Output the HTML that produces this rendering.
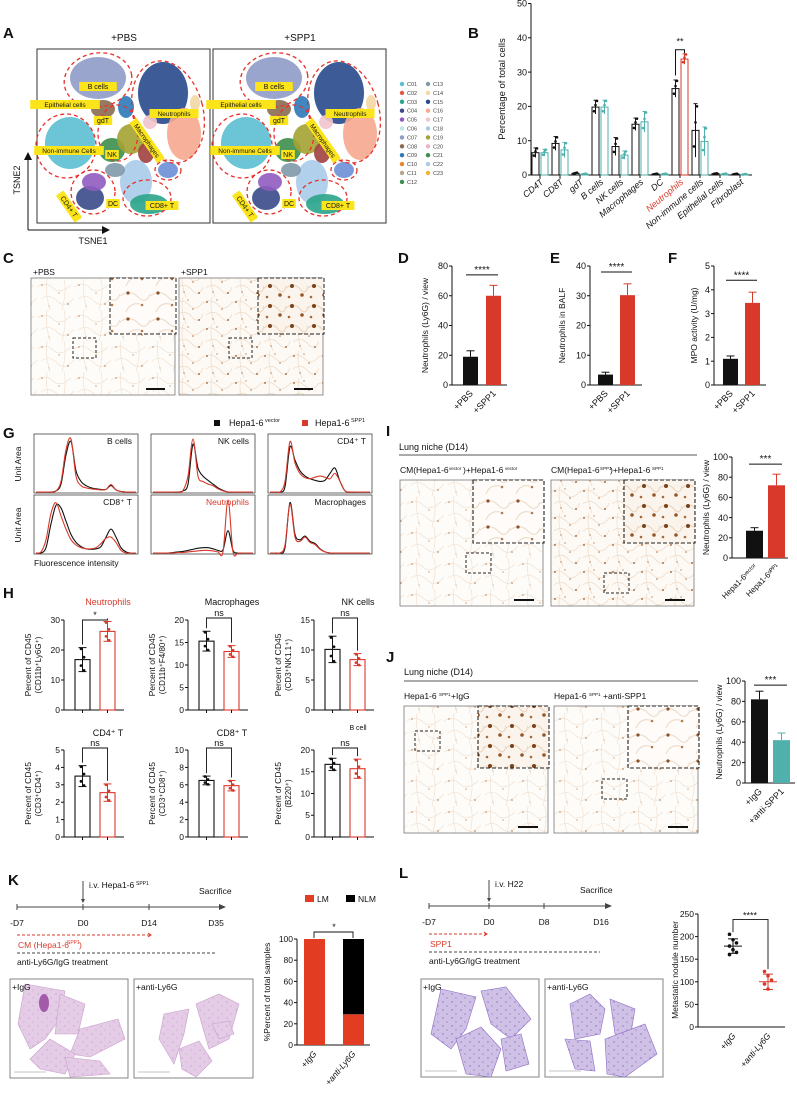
<!DOCTYPE html>
<html><head><meta charset="utf-8">
<style>
html,body{margin:0;padding:0;background:#fff;}
svg{display:block;font-family:"Liberation Sans",Arial,sans-serif;}
</style></head>
<body>
<svg id="fig" xmlns="http://www.w3.org/2000/svg" width="797" height="1094" viewBox="0 0 797 1094">
<defs>
<pattern id="ihc" width="37" height="31" patternUnits="userSpaceOnUse">
<rect width="37" height="31" fill="#fefcf9"/>
<path d="M0 8 Q9 2 16 9 T34 6 M4 20 Q12 14 20 22 T37 19 M10 0 Q8 14 13 31 M27 0 Q30 12 25 31" stroke="#f0e1d2" stroke-width="0.7" fill="none"/>
<circle cx="5" cy="6" r="0.8" fill="#c08a5c"/><circle cx="22" cy="14" r="0.7" fill="#cf9d72"/><circle cx="31" cy="25" r="0.8" fill="#b57a4c"/><circle cx="12" cy="27" r="0.6" fill="#d3a680"/>
</pattern>
<pattern id="ihc2" width="29" height="27" patternUnits="userSpaceOnUse">
<rect width="29" height="27" fill="#fdf9f4"/>
<path d="M0 6 Q8 1 15 8 T29 5 M3 18 Q11 12 18 20 T29 17 M9 0 Q6 13 12 27" stroke="#eedbc8" stroke-width="0.7" fill="none"/>
<circle cx="4" cy="5" r="0.9" fill="#9a5a2a"/><circle cx="19" cy="12" r="0.8" fill="#b4743f"/><circle cx="25" cy="23" r="0.9" fill="#8f4f22"/><circle cx="10" cy="22" r="0.7" fill="#b07a4c"/><circle cx="14" cy="3" r="0.6" fill="#a0602e"/>
</pattern>
<pattern id="inset1" width="30" height="26" patternUnits="userSpaceOnUse">
<rect width="30" height="26" fill="#fefbf8"/>
<path d="M0 10 Q10 3 18 11 T30 8 M6 26 Q10 16 20 18" stroke="#eddccb" stroke-width="1.1" fill="none"/>
<circle cx="8" cy="7" r="1.6" fill="#8a5128"/><circle cx="22" cy="19" r="1.3" fill="#b07a4c"/>
</pattern>
<pattern id="inset2" width="22" height="20" patternUnits="userSpaceOnUse">
<rect width="22" height="20" fill="#fbf4ec"/>
<path d="M0 8 Q8 2 14 9 T22 6" stroke="#ead5c0" stroke-width="1.1" fill="none"/>
<circle cx="6" cy="6" r="2" fill="#7a4218"/><circle cx="16" cy="15" r="1.8" fill="#94572a"/><circle cx="3" cy="17" r="1.3" fill="#a56a3a"/>
</pattern>
<pattern id="he" width="9" height="8" patternUnits="userSpaceOnUse">
<rect width="9" height="8" fill="#e4cbe6"/>
<circle cx="2" cy="2" r="0.6" fill="#c48fc8"/><circle cx="6" cy="6" r="0.6" fill="#cfa2d2"/>
</pattern>
<pattern id="hep" width="9" height="8" patternUnits="userSpaceOnUse">
<rect width="9" height="8" fill="#cfc1e6"/>
<circle cx="2" cy="2" r="0.7" fill="#8a6cc2"/><circle cx="6" cy="6" r="0.7" fill="#9c83cc"/>
</pattern>
</defs>
</svg>
<script>
// ---------------- DATA ----------------
const bCats = ["CD4T","CD8T","gdT","B cells","NK cells","Macrophages","DC","Neutrophils","Non-immune cells","Epithelial cells","Fibroblast"];
const bPBS = [6.5,9.2,0.5,19.8,8.3,14.8,0.3,25.2,13.0,0.4,0.3];
const bSPP1 = [6.5,7.3,0.3,19.8,5.8,15.5,0.3,33.8,9.8,0.3,0.2];
const bErrP = [1.4,2.0,0.2,2.0,2.6,1.8,0.1,2.5,7.8,0.1,0.1];
const bErrS = [1.0,2.2,0.1,2.0,1.2,3.0,0.1,1.5,4.2,0.1,0.1];
const bTicks = [0,10,20,30,40,50];

const dVals = [19,60]; const dErr = [4,7]; const dTicks=[0,20,40,60,80];
const eVals = [3.5,30.2]; const eErr = [0.8,3.8]; const eTicks=[0,10,20,30,40];
const fVals = [1.1,3.45]; const fErr = [0.12,0.45]; const fTicks=[0,1,2,3,4,5];
const iVals = [27,72]; const iErr = [3,11]; const iTicks=[0,20,40,60,80,100];
const jVals = [82,42]; const jErr = [8,7]; const jTicks=[0,20,40,60,80,100];

const hTitles = ["Neutrophils","Macrophages","NK cells","CD4⁺ T","CD8⁺ T","B cell"];
const hYlab2 = ["(CD11b⁺Ly6G⁺)","(CD11b⁺F4/80⁺)","(CD3⁺NK1.1⁺)","(CD3⁺CD4⁺)","(CD3⁺CD8⁺)","(B220⁺)"];
const hCtrl = [16.8,15.3,10.1,3.5,6.5,16.7];
const hSpp = [26.2,13.0,8.4,2.55,5.9,15.7];
const hErrC = [4.0,2.2,2.2,0.6,0.5,1.4];
const hErrS = [3.3,1.3,1.0,0.5,0.6,2.2];
const hMax = [30,20,15,5,10,20];
const hStep = [10,5,5,1,2,5];
const hSig = ["*","ns","ns","ns","ns","ns"];

const histNames = ["B cells","NK cells","CD4⁺ T","CD8⁺ T","Neutrophils","Macrophages"];
const histBlack = [
 [0,0,0,0,0.02,0.15,0.7,0.95,0.4,0.2,0.12,0.08,0.06,0.05,0.05,0.12,0.04,0.01,0,0,0],
 [0,0,0,0,0,0,0.02,0.15,0.9,0.45,0.3,0.22,0.15,0.08,0.03,0,0,0,0,0,0],
 [0,0,0,0.1,0.85,0.6,0.4,0.3,0.25,0.22,0.2,0.22,0.35,0.45,0.2,0.02,0,0,0,0,0],
 [0,0,0.1,0.55,0.9,0.85,0.6,0.35,0.2,0.12,0.08,0.07,0.08,0.12,0.3,0.45,0.3,0.1,0.02,0,0],
 [0,0,0,0,0.01,0.02,0.03,0.05,0.07,0.09,0.1,0.1,0.08,0.05,0.06,0.42,0.05,0,0,0,0],
 [0,0,0,0.1,0.95,0.35,0.25,0.32,0.22,0.18,0.08,0.02,0,0,0,0,0,0,0,0,0]
];
const histRed = [
 [0,0,0,0,0.02,0.2,0.8,1.0,0.3,0.12,0.08,0.06,0.05,0.04,0.05,0.14,0.04,0.01,0,0,0],
 [0,0,0,0,0,0,0.03,0.3,1.0,0.3,0.2,0.15,0.12,0.06,0.02,0,0,0,0,0,0],
 [0,0,0,0.2,0.95,0.55,0.35,0.27,0.25,0.28,0.3,0.28,0.25,0.35,0.2,0.02,0,0,0,0,0],
 [0,0.02,0.25,0.75,0.95,0.7,0.45,0.25,0.15,0.1,0.08,0.08,0.1,0.18,0.28,0.3,0.2,0.05,0,0,0],
 [0,0,0,0,0,0.01,0.01,0.02,0.03,0.04,0.05,0.05,0.04,0.02,0.02,1.0,0.02,0,0,0,0],
 [0,0,0,0.15,0.92,0.3,0.22,0.3,0.2,0.16,0.07,0.02,0,0,0,0,0,0,0,0,0]
];

const kLM = [100,29]; const kNLM = [0,71]; const kTicks=[0,20,40,60,80,100];
const lIgG = [205,193,186,179,171,165,160];
const lAnti = [123,113,104,95,84];
const lMean = [179,100]; const lSD = [16,17]; const lTicks=[0,50,100,150,200,250];

// --------------- HELPERS ---------------
const NS="http://www.w3.org/2000/svg";
const svg=document.getElementById("fig");
const RED="#d9392a", TEAL="#4fb0ac";
function mk(tag,attrs,parent,name,inter){
  const e=document.createElementNS(NS,tag);
  for(const k in attrs) e.setAttribute(k,attrs[k]);
  
  
  (parent||svg).appendChild(e); return e;
}
function txt(x,y,s,size,name,o){
  o=o||{};
  const a={x:x,y:y,"font-size":size,fill:o.fill||"#111"};
  if(o.anchor) a["text-anchor"]=o.anchor;
  if(o.weight) a["font-weight"]=o.weight;
  if(o.italic) a["font-style"]="italic";
  if(o.rot!==undefined) a.transform="rotate("+o.rot+" "+x+" "+y+")";
  const t=mk("text",a,o.parent,name,false);
  t.textContent=s; return t;
}
function line(x1,y1,x2,y2,name,o){
  o=o||{};
  const a={x1:x1,y1:y1,x2:x2,y2:y2,stroke:o.stroke||"#111","stroke-width":o.w||1};
  if(o.dash) a["stroke-dasharray"]=o.dash;
  return mk("line",a,o.parent,name,false);
}
function rect(x,y,w,h,name,o){
  o=o||{};
  return mk("rect",{x:x,y:y,width:w,height:h,fill:o.fill||"none",stroke:o.stroke||"none","stroke-width":o.w||1,"stroke-dasharray":o.dash||"none"},o.parent,name,false);
}
function panelLabel(x,y,s){ txt(x,y,s,15,"panel-label-"+s.toLowerCase(),{weight:"bold"}); }
function yAxis(x,y0,y1,ticks,max,size,name){
  const g=mk("g",{},svg,name,false);
  line(x,y0,x,y1,"y-axis-line",{parent:g});
  ticks.forEach(t=>{
    const y=y0-(t/max)*(y0-y1);
    line(x-3,y,x,y,"y-tick",{parent:g});
    txt(x-4,y+size*0.35,String(t),size,"y-tick-label",{anchor:"end",parent:g});
  });
  return g;
}
function errBar(cx,yTop,yBot,w,color,name,parent){
  line(cx,yTop,cx,yBot,name,{stroke:color,parent:parent});
  line(cx-w,yTop,cx+w,yTop,name+"-cap",{stroke:color,parent:parent});
}
function smoothPath(pts){
  let d="M"+pts[0][0]+" "+pts[0][1];
  for(let i=0;i<pts.length-1;i++){
    const p0=pts[i-1]||pts[i],p1=pts[i],p2=pts[i+1],p3=pts[i+2]||p2;
    const c1x=p1[0]+(p2[0]-p0[0])/6,c1y=p1[1]+(p2[1]-p0[1])/6;
    const c2x=p2[0]-(p3[0]-p1[0])/6,c2y=p2[1]-(p3[1]-p1[1])/6;
    d+=" C"+c1x.toFixed(1)+" "+c1y.toFixed(1)+" "+c2x.toFixed(1)+" "+c2y.toFixed(1)+" "+p2[0].toFixed(1)+" "+p2[1].toFixed(1);
  }
  return d;
}

// --------------- PANEL A: tSNE ---------------
panelLabel(3,38,"A");
const blobs=[
 [98,78,28,21,"#8e9bc6"],[163,93,25,31,"#27498c"],[184,134,17,26,"#f6a98f"],[70,143,25,26,"#5bbfd2"],
 [103,109,12,9,"#8b6a50"],[112,150,13,12,"#3b8f4c"],[131,139,14,15,"#a4a232"],[146,153,8,10,"#a0403f"],
 [126,107,8,11,"#2e78b8"],[136,182,16,22,"#a9cbe9"],[90,198,14,12,"#3b4a8a"],[94,182,12,9,"#8f5cbf"],
 [149,204,19,10,"#2aa48a"],[168,170,10,8,"#6b8fd6"],[115,170,10,7,"#7f9aa8"],[195,103,5,8,"#f3d7a4"],[150,122,7,7,"#f2c4cc"]
];
const outlines=[[98,80,34,27,-10],[168,112,35,52,-15],[66,146,30,32,0],[93,192,22,22,0],[147,198,24,18,0],[168,170,13,10,0],[118,133,20,28,0]];
const labelsA=[["B cells",98,89,0],["Epithelial cells",65,107,0],["gdT",103,123,0],["Neutrophils",174,116,0],["Non-immune Cells",69,153,0],["NK",112,157,0],["DC",113,206,0],["CD8+ T",162,208,0],["Macrophages",145,142,55],["CD4+ T",67,208,55]];
[[0,"+PBS","tsne-pbs"],[176,"+SPP1","tsne-spp1"]].forEach(([dx,title,nm])=>{
  const g=mk("g",{transform:"translate("+dx+",0)"},svg,nm,false);
  txt(124,41,title,10,"tsne-title",{anchor:"middle",parent:g});
  rect(37,49,173,174,"tsne-frame",{stroke:"#333",w:1,parent:g});
  blobs.forEach(b=>{
    mk("ellipse",{cx:b[0],cy:b[1],rx:b[2],ry:b[3],fill:b[4],opacity:0.9},g,"cell-cluster",false);
  });
  outlines.forEach(o=>{
    mk("ellipse",{cx:o[0],cy:o[1],rx:o[2],ry:o[3],fill:"none",stroke:"#e8302a","stroke-width":1.3,"stroke-dasharray":"4 3",transform:"rotate("+o[4]+" "+o[0]+" "+o[1]+")"},g,"cluster-outline",false);
  });
  labelsA.forEach(l=>{
    const w=l[0].length*(l[0].length>8?4.1:4.8)+4;
    const lg=mk("g",{transform:"translate("+l[1]+","+l[2]+") rotate("+l[3]+")"},g,"cluster-label",false);
    rect(-w/2,-7,w,9,"cluster-label-bg",{fill:"#fbe51a",parent:lg});
    txt(0,0,l[0],l[0].length>8?6.5:7,"cluster-label-text",{anchor:"middle",parent:lg});
  });
});
line(28,230,28,158,"tsne2-axis");
mk("path",{d:"M24 160 L28 152 L32 160 Z",fill:"#111"},svg,"tsne2-arrowhead",false);
line(28,230,104,230,"tsne1-axis");
mk("path",{d:"M102 226 L110 230 L102 234 Z",fill:"#111"},svg,"tsne1-arrowhead",false);
txt(20,180,"TSNE2",9,"tsne2-label",{anchor:"middle",rot:-90});
txt(93,244,"TSNE1",9,"tsne1-label",{anchor:"middle"});
const legCols=["#5bbfd2","#e5574a","#2aa48a","#3b4a8a","#8f5cbf","#bfe6e2","#8e9bc6","#8b6a50","#2e78b8","#e8862e","#b5a58d","#3b8f4c","#7f9aa8","#f3d7a4","#27498c","#f6a98f","#f2c4cc","#a9cbe9","#a4a232","#f0b3c0","#3b8f4c","#a9cbe9","#f2b533"];
legCols.forEach((c,i)=>{
  const col=i<12?0:1, row=i<12?i:i-12;
  const x=402+col*26, y=86+row*8.9;
  mk("circle",{cx:x,cy:y-2,r:2.2,fill:c},svg,"legend-dot",false);
  txt(x+5,y,"C"+String(i+1).padStart(2,"0"),5.5,"legend-entry",{fill:"#444"});
});

// --------------- PANEL B ---------------
panelLabel(468,38,"B");
{
  const x0=531,y0=175,yt=3.5,max=50;
  const yB=v=>y0-(v/max)*(y0-yt);
  yAxis(x0,y0,yt,bTicks,max,9,"b-y-axis");
  line(x0,y0,752,y0,"b-x-axis");
  txt(505,89,"Percentage of total cells",9.5,"b-y-axis-title",{anchor:"middle",rot:-90});
  bCats.forEach((c,i)=>{
    const cx=540+i*20;
    const g=mk("g",{},svg,"b-group-"+c.toLowerCase().replace(/ /g,"-"),false);
    const col2=c==="Neutrophils"?RED:TEAL;
    rect(cx-8,yB(bPBS[i]),7,y0-yB(bPBS[i]),"bar-pbs",{stroke:"#111",w:1,parent:g});
    rect(cx+1,yB(bSPP1[i]),7,y0-yB(bSPP1[i]),"bar-spp1",{stroke:col2,w:1,parent:g});
    line(cx-4.5,yB(bPBS[i]+bErrP[i]),cx-4.5,yB(Math.max(0,bPBS[i]-bErrP[i])),"err-pbs",{parent:g});
    line(cx-6.5,yB(bPBS[i]+bErrP[i]),cx-2.5,yB(bPBS[i]+bErrP[i]),"err-cap",{parent:g});
    line(cx+4.5,yB(bSPP1[i]+bErrS[i]),cx+4.5,yB(Math.max(0,bSPP1[i]-bErrS[i])),"err-spp1",{stroke:col2,parent:g});
    line(cx+2.5,yB(bSPP1[i]+bErrS[i]),cx+6.5,yB(bSPP1[i]+bErrS[i]),"err-cap",{stroke:col2,parent:g});
    [-0.6,0.3,0.9].forEach((k,j)=>{
      mk("circle",{cx:cx-4.5+(j-1)*1.5,cy:yB(Math.max(0,bPBS[i]+k*bErrP[i])),r:1.3,fill:"#111"},g,"point-pbs",false);
      mk("circle",{cx:cx+4.5+(j-1)*1.5,cy:yB(Math.max(0,bSPP1[i]+k*bErrS[i])),r:1.3,fill:col2},g,"point-spp1",false);
    });
    line(cx,y0,cx,y0+3,"x-tick",{parent:g});
    txt(cx+4,y0+8,c,9,"b-x-label",{anchor:"end",rot:-40,italic:true,fill:c==="Neutrophils"?RED:"#111",parent:g});
  });
  const nx=540+7*20;
  mk("path",{d:"M"+(nx-4.5)+" "+(yB(29))+" V"+(yB(36.5))+" H"+(nx+4.5)+" V"+(yB(35.5)),fill:"none",stroke:"#111"},svg,"b-sig-bracket",false);
  txt(nx,yB(38),"**",9,"b-sig-label",{anchor:"middle"});
}

// --------------- PANEL C ---------------
panelLabel(3,263,"C");
[[31,"+PBS","ihc","inset1",73],[179,"+SPP1","ihc2","inset2",229]].forEach(([x,lab,pat,ins,bx],k)=>{
  const g=mk("g",{},svg,"c-image-"+(k?"spp1":"pbs"),false);
  txt(x+2,275,lab,8.5,"c-image-label",{parent:g});
  rect(x,278,144,117,"c-micrograph",{fill:"url(#"+pat+")",stroke:"#777",w:0.8,parent:g});
  rect(x+79,278,66,56,"c-inset",{fill:"url(#"+ins+")",stroke:"#222",w:1,dash:"4 2",parent:g});
  rect(bx,338,23,20,"c-roi",{stroke:"#222",w:1,dash:"3 2",parent:g});
  line(x+115,389,x+134,389,"scale-bar",{w:2,parent:g});
});

// --------------- D/E/F ---------------
function simpleBars(o){
  const g=mk("g",{},svg,o.name,false);
  const yS=v=>o.y0-(v/o.max)*(o.y0-o.yt);
  yAxis(o.x0,o.y0,o.yt,o.ticks,o.max,9,o.name+"-y-axis");
  line(o.x0,o.y0,o.x0+o.len,o.y0,o.name+"-x-axis",{parent:g});
  o.vals.forEach((v,i)=>{
    const bx=o.bx[i];
    const col=o.cols[i];
    errBar(bx+o.bw/2,yS(v+o.err[i]),yS(v),4,col,"error-bar",g);
    rect(bx,yS(v),o.bw,o.y0-yS(v),"bar-"+o.cats[i].replace(/[^a-zA-Z0-9]/g,"").toLowerCase(),{fill:col,parent:g});
    txt(bx+o.bw/2+3,o.y0+9,o.cats[i],o.catSize||9,"x-label",{anchor:"end",rot:-45,parent:g,italic:o.italic});
  });
  const sy=yS(o.sigY);
  line(o.bx[0]+3,sy,o.bx[1]+o.bw-3,sy,"sig-line",{parent:g});
  txt((o.bx[0]+o.bx[1]+o.bw)/2,sy-2,o.sig,10,"sig-label",{anchor:"middle",parent:g});
  txt(o.ylx,(o.y0+o.yt)/2,o.ytitle,8.5,o.name+"-y-title",{anchor:"middle",rot:-90,parent:g});
}
panelLabel(398,263,"D");
simpleBars({name:"d-chart",x0:452,y0:385,yt:266,max:80,ticks:dTicks,vals:dVals,err:dErr,bx:[463,486],bw:15,cols:["#111",RED],cats:["+PBS","+SPP1"],len:55,sigY:74,sig:"****",ylx:428,ytitle:"Neutrophils (Ly6G) / view"});
panelLabel(550,263,"E");
simpleBars({name:"e-chart",x0:590,y0:385,yt:266,max:40,ticks:eTicks,vals:eVals,err:eErr,bx:[598,620],bw:15,cols:["#111",RED],cats:["+PBS","+SPP1"],len:52,sigY:38,sig:"****",ylx:565,ytitle:"Neutrophils in BALF"});
panelLabel(668,263,"F");
simpleBars({name:"f-chart",x0:714,y0:385,yt:266,max:5,ticks:fTicks,vals:fVals,err:fErr,bx:[723,745],bw:15,cols:["#111",RED],cats:["+PBS","+SPP1"],len:52,sigY:4.4,sig:"****",ylx:697,ytitle:"MPO activity (U/mg)"});

// --------------- G histograms ---------------
panelLabel(3,438,"G");
rect(214,420,6,6,"legend-swatch-vector",{fill:"#111"});
txt(229,426,"Hepa1-6",9,"legend-vector-text");
txt(265,422,"vector",5.5,"legend-vector-sup");
rect(302,420,6,6,"legend-swatch-spp1",{fill:RED});
txt(315,426,"Hepa1-6",9,"legend-spp1-text");
txt(351,422,"SPP1",5.5,"legend-spp1-sup");
const histBoxes=[[34,434],[151,434],[268,434],[34,495],[151,495],[268,495]];
histBoxes.forEach(([bx,by],p)=>{
  const g=mk("g",{},svg,"histogram-"+histNames[p].toLowerCase().replace(/[^a-z]/g,""),false);
  const w=104,h=59;
  rect(bx,by,w,h,"histogram-frame",{stroke:"#444",w:0.8,parent:g});
  const xs=i=>bx+2+i*(w-4)/20, ys=v=>by+h-1-v*(h-6);
  const pb=histBlack[p].map((v,i)=>[xs(i),ys(v)]);
  const pr=histRed[p].map((v,i)=>[xs(i),ys(v)]);
  mk("path",{d:smoothPath(pb),fill:"none",stroke:"#111","stroke-width":1.1},g,"curve-vector",false);
  mk("path",{d:smoothPath(pr),fill:"none",stroke:RED,"stroke-width":1.1},g,"curve-spp1",false);
  txt(bx+w-6,by+10,histNames[p],8.5,"histogram-title",{anchor:"end",fill:p===4?RED:"#111",parent:g});
});
txt(21,464,"Unit Area",8.5,"g-y-label-top",{anchor:"middle",rot:-90});
txt(21,525,"Unit Area",8.5,"g-y-label-bottom",{anchor:"middle",rot:-90});
txt(34,566,"Fluorescence intensity",8.5,"g-x-label");

// --------------- H ---------------
panelLabel(3,598,"H");
const hAx=[64,188,314];
hTitles.forEach((t,p)=>{
  const row=p<3?0:1, col=p%3;
  const x0=hAx[col], y0=row?837:710, yt=row?750:620;
  const max=hMax[p];
  const ticks=[]; for(let v=0;v<=max+1e-9;v+=hStep[p]) ticks.push(+v.toFixed(2));
  const g=mk("g",{},svg,"h-chart-"+t.toLowerCase().replace(/[^a-z0-9]/g,""),false);
  const yS=v=>y0-(v/max)*(y0-yt);
  yAxis(x0,y0,yt,ticks,max,8.5,"h-y-axis");
  line(x0,y0,x0+60,y0,"h-x-axis",{parent:g});
  txt(x0+44,row?(p===5?730:736):605,t,p===5?7:9,"h-title",{anchor:"middle",fill:p===0?RED:"#111",parent:g});
  const vals=[hCtrl[p],hSpp[p]], errs=[hErrC[p],hErrS[p]], cols=["#111",RED], bxs=[x0+11,x0+36];
  vals.forEach((v,i)=>{
    rect(bxs[i],yS(v),15,y0-yS(v),"bar-"+(i?"spp1":"control"),{stroke:cols[i],w:1.1,parent:g});
    const cx=bxs[i]+7.5;
    line(cx,yS(v+errs[i]),cx,yS(v-errs[i]),"error-bar",{stroke:cols[i],parent:g});
    line(cx-4,yS(v+errs[i]),cx+4,yS(v+errs[i]),"err-cap",{stroke:cols[i],parent:g});
    line(cx-4,yS(v-errs[i]),cx+4,yS(v-errs[i]),"err-cap",{stroke:cols[i],parent:g});
    [0.9,0.2,-0.5,-0.9].forEach((k,j)=>{
      mk("circle",{cx:cx+(j%2?1.5:-1.5),cy:yS(v+k*errs[i]),r:1.4,fill:cols[i]},g,"data-point",false);
    });
    line(cx,y0,cx,y0+3,"x-tick",{parent:g});
  });
  const sy=yt-2+(p===0?2:0);
  mk("path",{d:"M"+(x0+18.5)+" "+(yS(hCtrl[p]+hErrC[p])-3)+" V"+sy+" H"+(x0+43.5)+" V"+(yS(hSpp[p]+hErrS[p])-3),fill:"none",stroke:"#111","stroke-width":0.9},g,"sig-bracket",false);
  txt(x0+31,sy-2,hSig[p],9,"sig-label",{anchor:"middle",parent:g});
  txt(x0-33,(y0+yt)/2,"Percent of CD45",8.5,"h-y-title",{anchor:"middle",rot:-90,parent:g});
  txt(x0-23,(y0+yt)/2,hYlab2[p],8,"h-y-title-2",{anchor:"middle",rot:-90,parent:g});
});

// --------------- I ---------------
panelLabel(386,436,"I");
txt(399,450,"Lung niche (D14)",9,"i-title");
line(399,455,697,455,"i-title-rule",{stroke:"#555"});
txt(400,473,"CM(Hepa1-6",8.5,"i-subtitle-1");
txt(449,470,"vector",4.5,"sup");
txt(463,473,")+Hepa1-6",8.5,"i-subtitle-1b");
txt(505,470,"vector",4.5,"sup");
txt(551,473,"CM(Hepa1-6",8.5,"i-subtitle-2");
txt(600,470,"SPP1",4.5,"sup");
txt(610,473,")+Hepa1-6",8.5,"i-subtitle-2b");
txt(652,470,"SPP1",4.5,"sup");
[[400,"ihc","inset1",466,553],[551,"ihc2","inset2",604,573]].forEach(([x,pat,ins,rx,ry],k)=>{
  const g=mk("g",{},svg,"i-image-"+(k?"spp1":"vector"),false);
  rect(x,480,143,126,"i-micrograph",{fill:"url(#"+pat+")",stroke:"#777",w:0.8,parent:g});
  rect(x+73,480,71,63,"i-inset",{fill:"url(#"+ins+")",stroke:"#222",w:1.1,dash:"4 2",parent:g});
  rect(rx,ry,25,20,"i-roi",{stroke:"#222",w:1,dash:"3 2",parent:g});
  line(x+114,600,x+134,600,"scale-bar",{w:2,parent:g});
});
simpleBars({name:"i-chart",x0:732,y0:558,yt:457,max:100,ticks:iTicks,vals:iVals,err:iErr,bx:[746,768],bw:17,cols:["#111",RED],cats:["Hepa1-6ᵛᵉᶜᵗᵒʳ","Hepa1-6ˢᴾᴾ¹"],catSize:8,len:56,sigY:93,sig:"***",ylx:709,ytitle:"Neutrophils (Ly6G) / view"});

// --------------- J ---------------
panelLabel(386,662,"J");
txt(404,675,"Lung niche (D14)",9,"j-title");
line(404,681,698,681,"j-title-rule",{stroke:"#555"});
txt(404,699,"Hepa1-6",8.5,"j-subtitle-1");
txt(439,696,"SPP1",4.5,"sup");
txt(451,699,"+IgG",8.5,"j-subtitle-1b");
txt(554,699,"Hepa1-6",8.5,"j-subtitle-2");
txt(589,696,"SPP1",4.5,"sup");
txt(603,699,"+anti-SPP1",8.5,"j-subtitle-2b");
[[404,"ihc","inset2",415,731],[554,"ihc","inset1",602,779]].forEach(([x,pat,ins,rx,ry],k)=>{
  const g=mk("g",{},svg,"j-image-"+(k?"anti-spp1":"igg"),false);
  rect(x,706,144,127,"j-micrograph",{fill:"url(#"+pat+")",stroke:"#777",w:0.8,parent:g});
  rect(x+74,706,71,62,"j-inset",{fill:"url(#"+ins+")",stroke:"#222",w:1.1,dash:"4 2",parent:g});
  rect(rx,ry,25,20,"j-roi",{stroke:"#222",w:1,dash:"3 2",parent:g});
  line(x+114,827,x+134,827,"scale-bar",{w:2,parent:g});
});
simpleBars({name:"j-chart",x0:745,y0:783,yt:681,max:100,ticks:jTicks,vals:jVals,err:jErr,bx:[751,773],bw:17,cols:["#111",TEAL],cats:["+IgG","+anti-SPP1"],len:50,sigY:96,sig:"***",ylx:722,ytitle:"Neutrophils (Ly6G) / view"});

// --------------- K ---------------
panelLabel(8,885,"K");
function timeline(o){
  const g=mk("g",{},svg,o.name,false);
  line(o.x0,o.y,o.x1-6,o.y,"timeline-axis",{stroke:"#444",parent:g});
  mk("path",{d:"M"+(o.x1-7)+" "+(o.y-3)+" L"+o.x1+" "+o.y+" L"+(o.x1-7)+" "+(o.y+3)+" Z",fill:"#444"},g,"timeline-arrowhead",false);
  o.ticks.forEach(([x])=>{ line(x,o.y-3,x,o.y+3,"timeline-tick",{stroke:"#444",parent:g}); });
  o.labels.forEach(([x,l])=>txt(x,o.y+19,l,8.5,"timeline-label",{anchor:"middle",parent:g}));
  line(o.inj,o.y-26,o.inj,o.y-6,"injection-arrow",{stroke:"#444",parent:g});
  mk("path",{d:"M"+(o.inj-2)+" "+(o.y-8)+" L"+o.inj+" "+(o.y-4)+" L"+(o.inj+2)+" "+(o.y-8)+" Z",fill:"#444"},g,"injection-arrowhead",false);
  txt(o.inj+6,o.y-19,o.injText,8.5,"injection-label",{parent:g});
  if(o.injSup) txt(o.inj+53,o.y-22,o.injSup,5,"sup",{parent:g});
  txt(o.sacX,o.y-13,"Sacrifice",8.5,"sacrifice-label",{parent:g});
  line(o.x0,o.y+28,o.redEnd,o.y+28,"treatment-red-dashed",{stroke:RED,dash:"3 2",parent:g});
  mk("path",{d:"M"+(o.redEnd-3)+" "+(o.y+26)+" L"+o.redEnd+" "+(o.y+28)+" L"+(o.redEnd-3)+" "+(o.y+30),fill:"none",stroke:RED},g,"red-arrowhead",false);
  line(o.x0,o.y+46,o.blackEnd,o.y+46,"treatment-black-dashed",{stroke:"#444",dash:"3 2",parent:g});
  txt(o.x0+1,o.y+41,o.redText,8.5,"red-treatment-label",{fill:RED,parent:g});
  if(o.redSup){
    txt(o.x0+50,o.y+37,o.redSup,5,"sup",{fill:RED,parent:g});
    txt(o.x0+62,o.y+41,")",8.5,"red-treatment-close",{fill:RED,parent:g});
  }
  txt(o.x0,o.y+58,"anti-Ly6G/IgG treatment",8.5,"black-treatment-label",{parent:g});
}
timeline({name:"k-timeline",x0:17,x1:226,y:907,ticks:[[17],[83],[149]],labels:[[17,"-D7"],[83,"D0"],[149,"D14"],[216,"D35"]],inj:83,injText:"i.v. Hepa1-6",injSup:"SPP1",sacX:199,redEnd:151,blackEnd:216,redText:"CM (Hepa1-6",redSup:"SPP1"});
function lungImg(x,y,w,h,fillId,label,shapes,name,dark){
  const g=mk("g",{},svg,name,false);
  rect(x,y,w,h,"lung-frame",{fill:"#fff",stroke:"#666",w:0.8,parent:g});
  shapes.forEach(s=>{
    mk("polygon",{points:s.map((v,i)=>i%2?v+y:v+x).join(" "),fill:"url(#"+fillId+")",stroke:dark?"#8d6cc4":"#caa0cc","stroke-width":0.6},g,"lung-lobe",false);
  });
  txt(x+2,y+11,label,8.5,"lung-image-label",{parent:g});
  line(x+4,y+h-6,x+36,y+h-6,"lung-scale",{stroke:"#888",w:0.6,parent:g});
  return g;
}
const kShapes1=[[15,5,55,12,50,40,35,60,20,70,8,45],[50,15,75,25,68,55,45,55],[70,50,108,40,115,60,80,78,60,75],[40,60,65,75,55,95,30,90,20,80],[55,78,90,82,100,95,60,98]];
const kShapes2=[[30,35,55,30,50,55,40,85,25,60],[62,25,85,15,105,25,95,60,75,70],[45,70,65,62,78,82,62,98,48,90],[78,45,95,42,100,55,85,60]];
lungImg(10,979,118,99,"he","+IgG",kShapes1,"k-image-igg");
mk("ellipse",{cx:44,cy:1003,rx:5,ry:9,fill:"#a35aa8"},svg,"k-metastasis",false);
lungImg(134,979,119,99,"he","+anti-Ly6G",kShapes2,"k-image-antily6g");
{
  const x0=297,y0=1045,yt=939,max=100;
  const yS=v=>y0-(v/max)*(y0-yt);
  yAxis(x0,y0,yt,kTicks,max,8.5,"k-y-axis");
  line(x0,y0,370,y0,"k-x-axis");
  txt(270,992,"%Percent of total samples",8.5,"k-y-title",{anchor:"middle",rot:-90});
  const kCats=["+IgG","+anti-Ly6G"], bxs=[304,343];
  kCats.forEach((c,i)=>{
    rect(bxs[i],yS(kLM[i]),21,y0-yS(kLM[i]),"k-bar-lm",{fill:"#e23d22"});
    rect(bxs[i],yS(kLM[i]+kNLM[i]),21,yS(kLM[i])-yS(kLM[i]+kNLM[i]),"k-bar-nlm",{fill:"#000"});
    txt(bxs[i]+13,y0+9,c,8.5,"k-x-label",{anchor:"end",rot:-50,italic:true});
  });
  mk("path",{d:"M314 938 V932 H353 V938",fill:"none",stroke:"#111","stroke-width":0.9},svg,"k-sig-bracket",false);
  txt(334,930,"*",9,"k-sig-label",{anchor:"middle"});
  rect(305,895,9,7,"k-legend-lm-swatch",{fill:"#e23d22"});
  txt(317,902,"LM",8.5,"k-legend-lm");
  rect(346,895,9,7,"k-legend-nlm-swatch",{fill:"#000"});
  txt(358,902,"NLM",8.5,"k-legend-nlm");
}

// --------------- L ---------------
panelLabel(399,878,"L");
timeline({name:"l-timeline",x0:429,x1:612,y:906,ticks:[[429],[489],[544]],labels:[[429,"-D7"],[489,"D0"],[544,"D8"],[601,"D16"]],inj:489,injText:"i.v. H22",sacX:580,redEnd:487,blackEnd:600,redText:"SPP1"});
const lShapes1=[[20,10,55,18,45,50,30,70,10,55],[60,12,85,8,110,40,90,60,70,45],[35,60,60,48,80,70,70,98,45,95],[80,60,100,55,108,85,85,92]];
const lShapes2=[[25,25,45,15,60,30,55,55,30,60],[65,20,90,30,85,60,70,55],[20,60,45,62,50,92,30,90],[60,60,100,45,112,75,80,98,62,95]];
lungImg(421,979,118,98,"hep","+IgG",lShapes1,"l-image-igg",true);
lungImg(545,979,118,98,"hep","+anti-Ly6G",lShapes2,"l-image-antily6g",true);
{
  const x0=698,y0=1027,yt=914,max=250;
  const yS=v=>y0-(v/max)*(y0-yt);
  yAxis(x0,y0,yt,lTicks,max,8.5,"l-y-axis");
  line(x0,y0,785,y0,"l-x-axis");
  txt(678,970,"Metastatic nodule number",8.5,"l-y-title",{anchor:"middle",rot:-90});
  const groups=[lIgG,lAnti], cx=[733,768], cols=["#111",RED], cats=["+IgG","+anti-Ly6G"];
  groups.forEach((arr,i)=>{
    arr.forEach((v,j)=>{
      mk("circle",{cx:cx[i]+((j%3)-1)*3.5,cy:yS(v),r:1.8,fill:cols[i]},svg,"l-point",false);
    });
    line(cx[i]-9,yS(lMean[i]),cx[i]+9,yS(lMean[i]),"l-mean",{stroke:cols[i]});
    line(cx[i],yS(lMean[i]+lSD[i]),cx[i],yS(lMean[i]-lSD[i]),"l-sd",{stroke:cols[i]});
    line(cx[i]-5,yS(lMean[i]+lSD[i]),cx[i]+5,yS(lMean[i]+lSD[i]),"l-sd-cap",{stroke:cols[i]});
    line(cx[i]-5,yS(lMean[i]-lSD[i]),cx[i]+5,yS(lMean[i]-lSD[i]),"l-sd-cap",{stroke:cols[i]});
    txt(cx[i]+3,y0+9,cats[i],8.5,"l-x-label",{anchor:"end",rot:-50,italic:true});
  });
  mk("path",{d:"M733 "+(yS(210))+" V"+yS(238)+" H768 V"+yS(128),fill:"none",stroke:"#111","stroke-width":0.9},svg,"l-sig-bracket",false);
  txt(750,yS(240),"****",9,"l-sig-label",{anchor:"middle"});
}
</script>
</body></html>
